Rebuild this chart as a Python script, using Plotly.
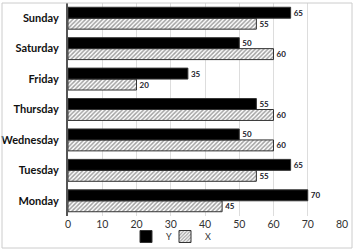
import plotly.graph_objects as go

days = ["Monday", "Tuesday", "Wednesday", "Thursday", "Friday", "Saturday", "Sunday"]
y_vals = [70, 65, 50, 55, 35, 50, 65]
x_vals = [45, 55, 60, 60, 20, 60, 55]
x_ticks = [0, 10, 20, 30, 40, 50, 60, 70, 80]

fig = go.Figure()
fig.add_trace(go.Bar(
    y=days, x=x_vals, name="X", orientation="h",
    marker=dict(color="white", line=dict(color="#333333", width=1),
                pattern=dict(shape="/", fgcolor="#444444", bgcolor="white", size=3, solidity=0.5)),
    text=x_vals, textposition="outside", cliponaxis=False,
    textfont=dict(family="Lato", size=8, color="#1a1a2a", weight="bold"),
    legend="legend2",
))
fig.add_trace(go.Bar(
    y=days, x=y_vals, name="Y", orientation="h",
    marker=dict(color="black", line=dict(color="#333333", width=1)),
    text=y_vals, textposition="outside", cliponaxis=False,
    textfont=dict(family="Lato", size=8, color="#1a1a2a", weight="bold"),
    legend="legend",
))

H = 248.0  # paper height (figure height minus top margin)
leg_common = dict(orientation="h", yref="paper", xref="paper",
                  y=0, yanchor="bottom", xanchor="left",
                  font=dict(size=9, color="#333333"), itemwidth=30,
                  bgcolor="rgba(0,0,0,0)")
W = 274.0
fig.update_layout(
    width=360, height=251,
    margin=dict(l=68, r=18, t=3, b=0),
    barmode="group", bargap=0.28, bargroupgap=0,
    plot_bgcolor="white", paper_bgcolor="white",
    font=dict(family="Lato", color="#222222"),
    showlegend=True,
    legend=dict(x=(148 - 22 - 68) / W, **leg_common),
    legend2=dict(x=(186 - 21 - 68) / W, **leg_common),
    xaxis=dict(range=[0, 80], tickvals=x_ticks, showgrid=True, gridcolor="#dddddd",
               gridwidth=1, zeroline=False, tickfont=dict(size=10.5, color="#333333"),
               ticks="", showline=False),
    yaxis=dict(domain=[35 / H, 1], showline=True, linecolor="#555555", linewidth=2,
               tickfont=dict(size=11, color="#111111", weight="bold"), ticks="",
               ticksuffix="  "),
    shapes=[dict(type="rect", xref="paper", yref="paper",
                 x0=-66 / W, x1=1 + 10 / W, y0=3 / H, y1=1.0,
                 line=dict(color="#cccccc", width=1))],
)
fig.write_html("out.html")
